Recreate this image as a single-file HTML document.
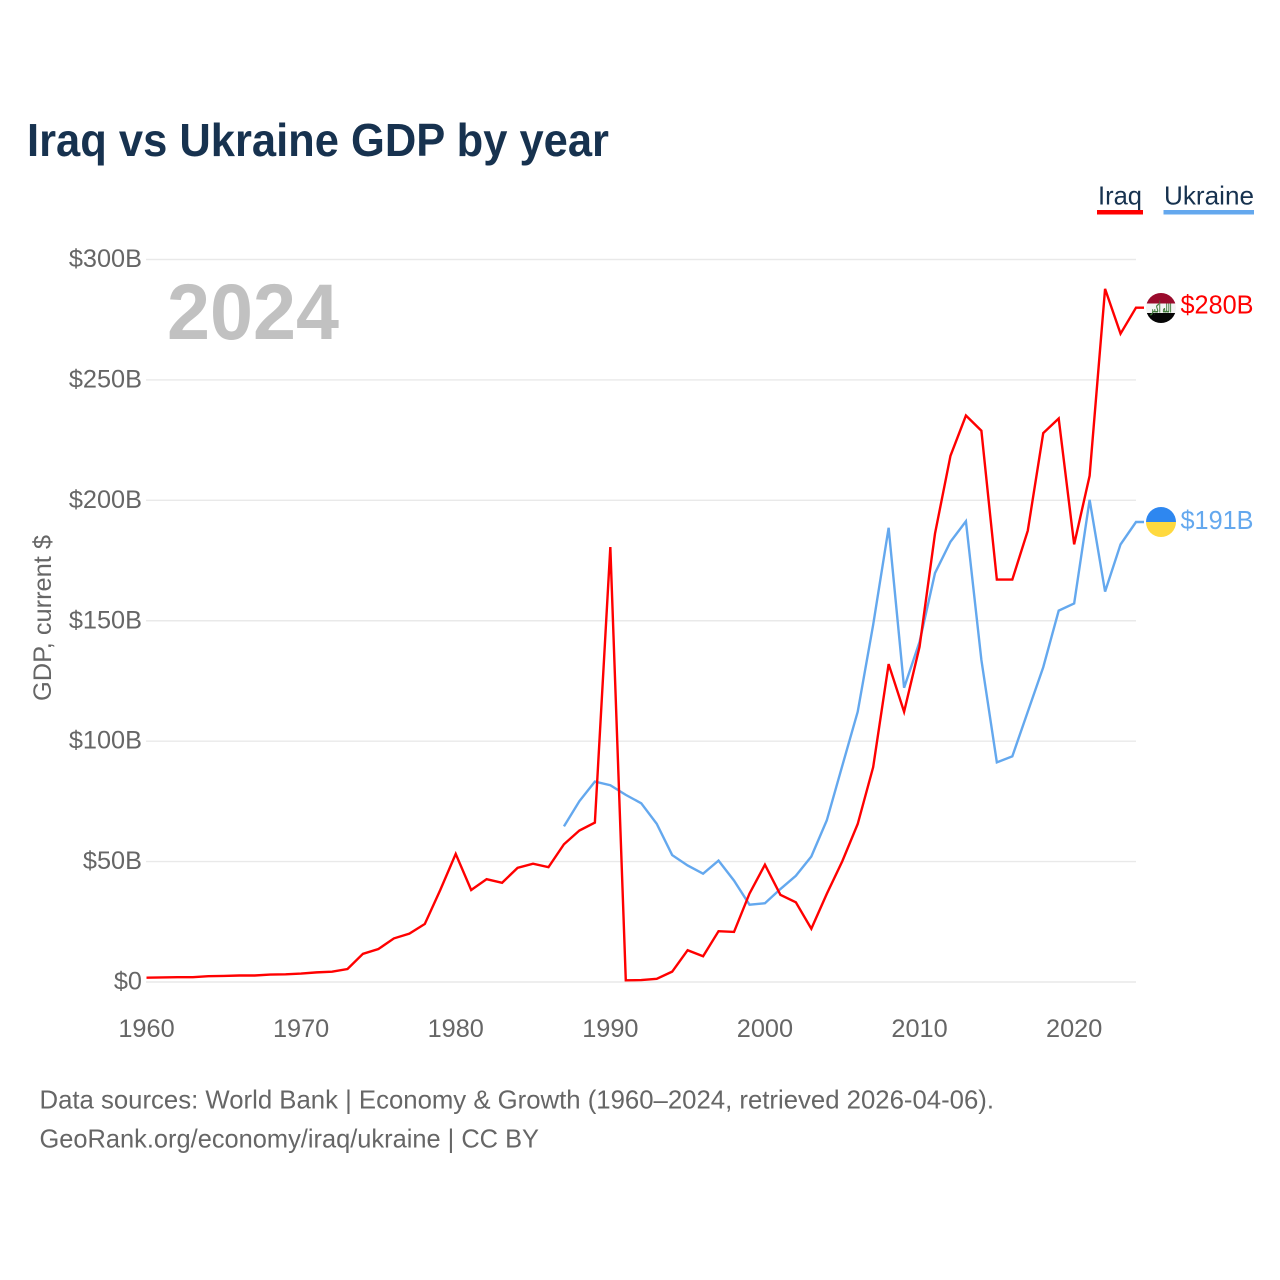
<!DOCTYPE html>
<html lang="en">
<head>
<meta charset="utf-8">
<title>Iraq vs Ukraine GDP by year</title>
<style>
html,body{margin:0;padding:0;background:#fff;width:1280px;height:1280px;overflow:hidden}
svg{display:block}
text{font-family:"Liberation Sans","DejaVu Sans",sans-serif}
</style>
</head>
<body>
<svg id="chart" xmlns="http://www.w3.org/2000/svg" width="1280" height="1280" viewBox="0 0 1280 1280">
  <text x="27" y="156" font-size="46" font-weight="700" fill="#17324f" textLength="582" lengthAdjust="spacingAndGlyphs">Iraq vs Ukraine GDP by year</text>

  <text x="1098" y="204.5" font-size="26" fill="#17324f" textLength="44" lengthAdjust="spacingAndGlyphs">Iraq</text>
  <rect x="1097" y="210" width="46" height="4.5" fill="#ff0000"/>
  <text x="1164" y="204.5" font-size="26" fill="#17324f" textLength="90" lengthAdjust="spacingAndGlyphs">Ukraine</text>
  <rect x="1163.5" y="210" width="90.5" height="4.5" fill="#64a8ee"/>

  <g id="grid"></g>
  <g id="yticks"></g>
  <g id="xticks"></g>

  <text transform="translate(51 701) rotate(-90)" font-size="25" fill="#666666" textLength="166" lengthAdjust="spacingAndGlyphs">GDP, current $</text>
  <text x="167" y="339" font-size="79" font-weight="700" fill="#c1c1c1" textLength="172" lengthAdjust="spacingAndGlyphs">2024</text>

  <g id="series"></g>

  <defs>
    <clipPath id="iraq-clip"><circle cx="1161" cy="308" r="15"/></clipPath>
    <clipPath id="ukraine-clip"><circle cx="1161" cy="522" r="15"/></clipPath>
  </defs>
  <g clip-path="url(#iraq-clip)">
    <rect x="1146" y="293" width="30" height="10.5" fill="#9a0b2c"/>
    <rect x="1146" y="303.5" width="30" height="9.5" fill="#f4f4f4"/>
    <rect x="1146" y="313" width="30" height="10" fill="#060606"/>
    <text x="1161" y="312.5" font-size="12" font-weight="700" fill="#3f7a3a" text-anchor="middle" textLength="21" lengthAdjust="spacingAndGlyphs" style="font-family:'DejaVu Sans',sans-serif">الله أكبر</text>
  </g>
  <text x="1180.5" y="313.5" font-size="25.5" fill="#ff0000" textLength="73" lengthAdjust="spacingAndGlyphs">$280B</text>

  <g clip-path="url(#ukraine-clip)">
    <rect x="1146" y="507" width="30" height="15" fill="#2e87f0"/>
    <rect x="1146" y="522" width="30" height="15" fill="#ffd93f"/>
  </g>
  <text x="1180.5" y="529" font-size="25.5" fill="#64a8ee" textLength="73" lengthAdjust="spacingAndGlyphs">$191B</text>

  <text x="39.5" y="1108.5" font-size="26" fill="#666666" textLength="954.5" lengthAdjust="spacingAndGlyphs">Data sources: World Bank | Economy &amp; Growth (1960–2024, retrieved 2026-04-06).</text>
  <text x="39.5" y="1147.5" font-size="26" fill="#666666" textLength="499.5" lengthAdjust="spacingAndGlyphs">GeoRank.org/economy/iraq/ukraine | CC BY</text>
</svg>
<script>
const firstYear = 1960;
const lastYear = 2024;
const yTickValues = [0, 50, 100, 150, 200, 250, 300];
const yTickLabels = ["$0", "$50B", "$100B", "$150B", "$200B", "$250B", "$300B"];
const xTickValues = [1960, 1970, 1980, 1990, 2000, 2010, 2020];
const iraqStartYear = 1960;
const iraqGdp = [1.8, 1.9, 2.0, 2.0, 2.4, 2.5, 2.7, 2.7, 3.1, 3.2, 3.5, 4.0, 4.3, 5.4, 11.7, 13.7, 18.1, 20.1, 24.1, 38.2, 53.2, 38.2, 42.7, 41.2, 47.4, 49.1, 47.7, 57.2, 62.9, 66.2, 180.6, 0.7, 0.8, 1.3, 4.3, 13.2, 10.7, 21.1, 20.8, 36.7, 48.7, 36.2, 33.1, 22.1, 36.6, 50.1, 65.6, 89.2, 132, 112.2, 139.2, 186.2, 218.5, 235.2, 228.9, 167.1, 167.1, 187.4, 227.9, 234, 181.7, 210.2, 287.8, 269.2, 280];
const ukraineStartYear = 1987;
const ukraineGdp = [64.6, 75.1, 83.2, 81.7, 77.7, 74.2, 65.7, 52.7, 48.4, 45, 50.4, 42.1, 32.1, 32.7, 38.6, 44.1, 52.1, 67.1, 89.7, 112.2, 148.3, 188.6, 122.2, 141.2, 169.8, 182.8, 191.3, 133.7, 91.2, 93.7, 112.2, 130.7, 154.2, 157.2, 200.2, 162.1, 181.7, 191];

const NS = "http://www.w3.org/2000/svg";
const xScale = function (year) {
  return 146.5 + (year - firstYear) * (1136 - 146.5) / (lastYear - firstYear);
};
const yScale = function (value) {
  return 982 - value * (982 - 259.5) / 300;
};

const gridGroup = document.getElementById("grid");
const yTickGroup = document.getElementById("yticks");
const xTickGroup = document.getElementById("xticks");
const seriesGroup = document.getElementById("series");

yTickValues.forEach(function (value, i) {
  const line = document.createElementNS(NS, "line");
  
  
  line.setAttribute("x1", 146);
  line.setAttribute("x2", 1136);
  line.setAttribute("y1", yScale(value));
  line.setAttribute("y2", yScale(value));
  line.setAttribute("stroke", "#e9e9e9");
  line.setAttribute("stroke-width", 1.4);
  gridGroup.appendChild(line);

  const label = document.createElementNS(NS, "text");
  
  
  label.setAttribute("x", 142);
  label.setAttribute("y", yScale(value) + 7.5);
  label.setAttribute("text-anchor", "end");
  label.setAttribute("font-size", 25.3);
  label.setAttribute("fill", "#666666");
  label.textContent = yTickLabels[i];
  yTickGroup.appendChild(label);
});

xTickValues.forEach(function (year) {
  const label = document.createElementNS(NS, "text");
  
  
  label.setAttribute("x", xScale(year));
  label.setAttribute("y", 1037);
  label.setAttribute("text-anchor", "middle");
  label.setAttribute("font-size", 25.3);
  label.setAttribute("fill", "#666666");
  label.textContent = String(year);
  xTickGroup.appendChild(label);
});

function linePoints(startYear, values) {
  const pts = values.map(function (value, i) {
    return xScale(startYear + i).toFixed(2) + "," + yScale(value).toFixed(2);
  });
  const endY = yScale(values[values.length - 1]).toFixed(2);
  pts.push((xScale(lastYear) + 8).toFixed(2) + "," + endY);
  return pts.join(" ");
}

const ukraineLine = document.createElementNS(NS, "polyline");


ukraineLine.setAttribute("points", linePoints(ukraineStartYear, ukraineGdp));
ukraineLine.setAttribute("fill", "none");
ukraineLine.setAttribute("stroke", "#64a8ee");
ukraineLine.setAttribute("stroke-width", 2.4);
seriesGroup.appendChild(ukraineLine);

const iraqLine = document.createElementNS(NS, "polyline");


iraqLine.setAttribute("points", linePoints(iraqStartYear, iraqGdp));
iraqLine.setAttribute("fill", "none");
iraqLine.setAttribute("stroke", "#ff0000");
iraqLine.setAttribute("stroke-width", 2.4);
seriesGroup.appendChild(iraqLine);
</script>
</body>
</html>
